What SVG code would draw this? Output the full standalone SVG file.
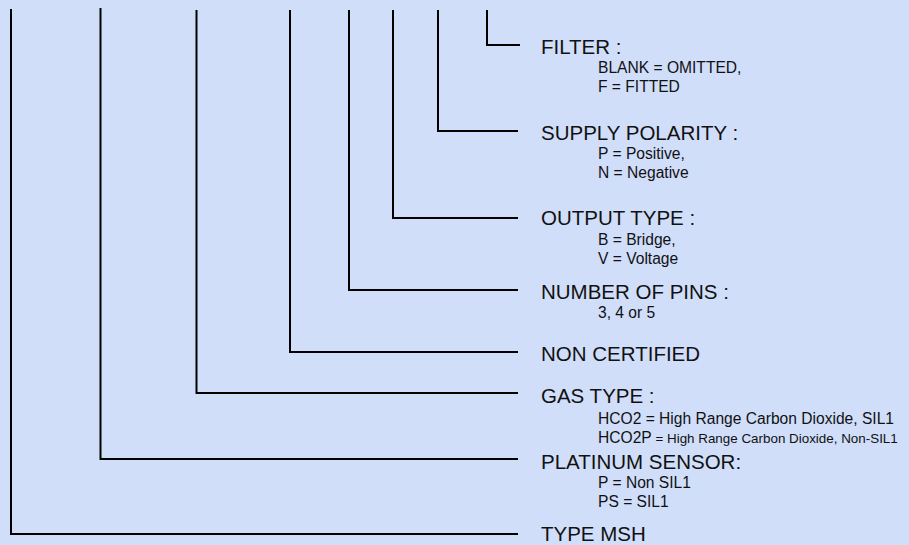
<svg xmlns="http://www.w3.org/2000/svg" width="909" height="545" viewBox="0 0 909 545">
<style>
.bg{fill:#d0defa}
.ln{fill:none;stroke:#000;stroke-width:2;stroke-linejoin:miter}
text{font-family:"Liberation Sans",Arial,sans-serif;fill:#111}
.h{font-size:20.5px}
.s{font-size:15.6px}
.t{font-size:13.4px}
</style>
<rect class="bg" x="0" y="0" width="909" height="545"/>
<g id="connectors">
<path class="ln" d="M487,10 V45 H520"/>
<path class="ln" d="M438,10 V131 H518"/>
<path class="ln" d="M393,10 V218 H518"/>
<path class="ln" d="M349,10 V290 H518"/>
<path class="ln" d="M290,10 V352 H518"/>
<path class="ln" d="M196.5,10 V393 H518"/>
<path class="ln" d="M100.5,8 V459 H518"/>
<path class="ln" d="M11,9 V534 H518"/>
</g>
<g id="filter">
<text class="h" x="541" y="54">FILTER :</text>
<text class="s" x="598" y="73">BLANK = OMITTED,</text>
<text class="s" x="598" y="91.5">F = FITTED</text>
</g>
<g id="supply-polarity">
<text class="h" x="541" y="139.5">SUPPLY POLARITY :</text>
<text class="s" x="598" y="159">P = Positive,</text>
<text class="s" x="598" y="178">N = Negative</text>
</g>
<g id="output-type">
<text class="h" x="541" y="225">OUTPUT TYPE :</text>
<text class="s" x="598" y="245">B = Bridge,</text>
<text class="s" x="598" y="264">V = Voltage</text>
</g>
<g id="number-of-pins">
<text class="h" x="541" y="298.5">NUMBER OF PINS :</text>
<text class="s" x="598" y="318">3, 4 or 5</text>
</g>
<g id="non-certified">
<text class="h" x="541" y="360.5">NON CERTIFIED</text>
</g>
<g id="gas-type">
<text class="h" x="541" y="402.5">GAS TYPE :</text>
<text class="s" x="598" y="424">HCO2 = High Range Carbon Dioxide, SIL1</text>
<text class="s" x="598" y="442.5">HCO2P<tspan class="t"> = High Range Carbon Dioxide, Non-SIL1</tspan></text>
</g>
<g id="platinum-sensor">
<text class="h" x="541" y="468.5">PLATINUM SENSOR:</text>
<text class="s" x="598" y="487.5">P = Non SIL1</text>
<text class="s" x="598" y="506.5">PS = SIL1</text>
</g>
<g id="type-msh">
<text class="h" x="541" y="541">TYPE MSH</text>
</g>
</svg>
